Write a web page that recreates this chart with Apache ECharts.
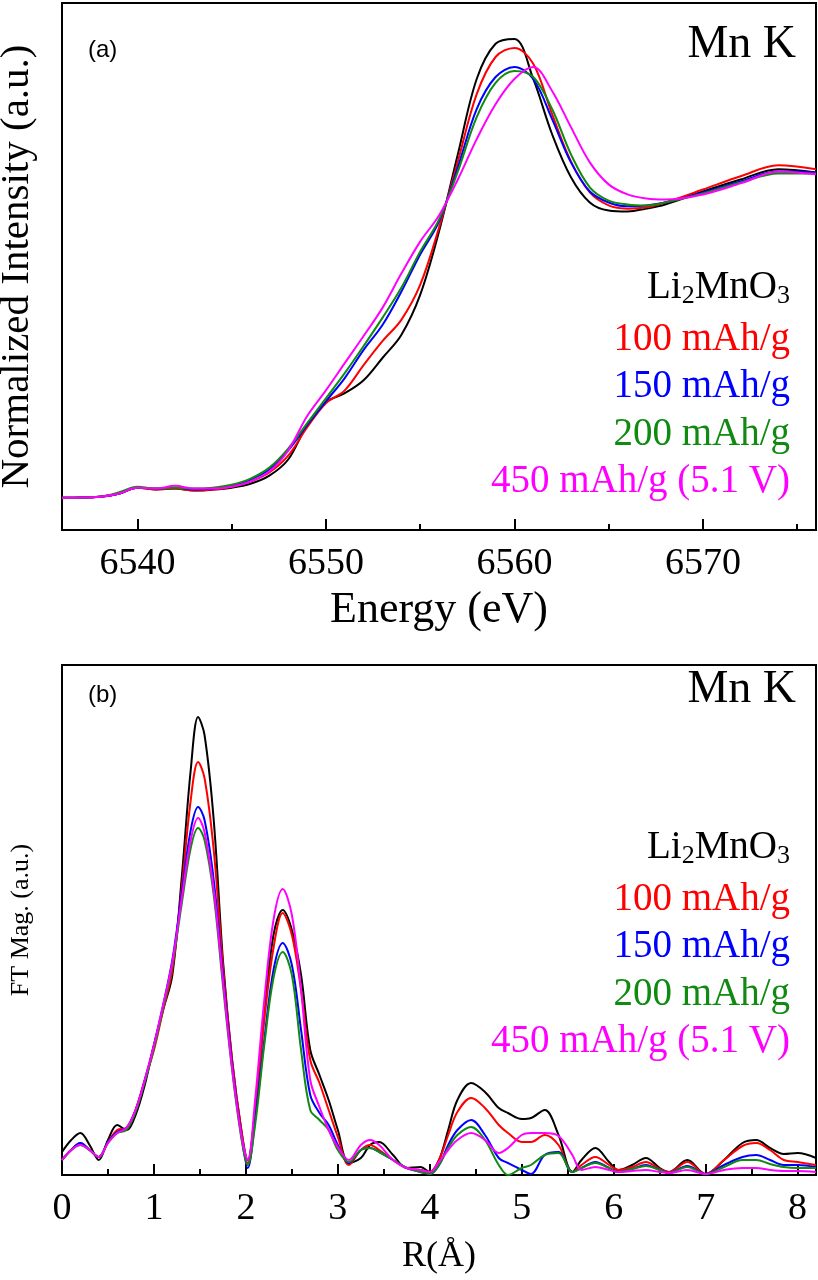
<!DOCTYPE html>
<html>
<head>
<meta charset="utf-8">
<script src="https://cdn.jsdelivr.net/npm/echarts@6/dist/echarts.min.js"></script>
<style>
html,body{margin:0;padding:0;background:#fff;}
#chart{width:818px;height:1280px;}
</style>
</head>
<body>
<div id="chart"></div>
<script>
// ---------- DATA ----------
const seriesNames = ['Li2MnO3', '100 mAh/g', '150 mAh/g', '200 mAh/g', '450 mAh/g (5.1 V)'];
const seriesColors = ['#000000', '#ff0000', '#0000ff', '#108a10', '#ff00ff'];

// (a) Mn K-edge XANES
const energy = [6536, 6538, 6539, 6540, 6541, 6542, 6543, 6544, 6545, 6546, 6547, 6548, 6549, 6550, 6551, 6552, 6553, 6554, 6555, 6556, 6557, 6558, 6559, 6560, 6561, 6562, 6563, 6564, 6565, 6566, 6567, 6568, 6570, 6572, 6574, 6576];
const xanesLi2MnO3 = [0.000, 0.003, 0.012, 0.031, 0.025, 0.028, 0.022, 0.025, 0.031, 0.043, 0.068, 0.118, 0.224, 0.295, 0.323, 0.363, 0.432, 0.503, 0.627, 0.823, 1.062, 1.295, 1.404, 1.419, 1.295, 1.124, 0.991, 0.913, 0.888, 0.885, 0.894, 0.907, 0.947, 0.984, 1.016, 1.006];
const xanes100 = [0.000, 0.003, 0.012, 0.031, 0.025, 0.028, 0.022, 0.025, 0.034, 0.050, 0.078, 0.130, 0.217, 0.292, 0.332, 0.410, 0.484, 0.550, 0.658, 0.835, 1.040, 1.248, 1.363, 1.391, 1.342, 1.186, 1.040, 0.944, 0.904, 0.894, 0.898, 0.913, 0.953, 0.994, 1.028, 1.016];
const xanes150 = [0.000, 0.003, 0.012, 0.031, 0.028, 0.031, 0.025, 0.028, 0.037, 0.056, 0.087, 0.146, 0.224, 0.298, 0.370, 0.457, 0.534, 0.637, 0.752, 0.854, 1.022, 1.202, 1.301, 1.332, 1.295, 1.171, 1.037, 0.947, 0.913, 0.901, 0.904, 0.913, 0.944, 0.978, 1.009, 1.006];
const xanes200 = [0.000, 0.003, 0.016, 0.034, 0.028, 0.031, 0.028, 0.031, 0.040, 0.059, 0.093, 0.152, 0.230, 0.307, 0.385, 0.469, 0.556, 0.649, 0.761, 0.860, 1.009, 1.177, 1.283, 1.320, 1.301, 1.202, 1.062, 0.960, 0.919, 0.907, 0.904, 0.913, 0.941, 0.975, 1.003, 1.003];
const xanes450 = [0.000, 0.003, 0.012, 0.031, 0.028, 0.037, 0.028, 0.028, 0.034, 0.050, 0.081, 0.146, 0.252, 0.332, 0.416, 0.500, 0.587, 0.693, 0.792, 0.873, 0.984, 1.109, 1.217, 1.295, 1.332, 1.258, 1.146, 1.037, 0.969, 0.938, 0.925, 0.922, 0.938, 0.972, 1.009, 1.000];
const energyTicks = [6540, 6550, 6560, 6570];
const energyMinorTicks = [6545, 6555, 6565, 6575];

// (b) Fourier transform magnitude
const rValues = [0, 0.1, 0.2, 0.3, 0.4, 0.5, 0.6, 0.7, 0.8, 0.9, 1.0, 1.1, 1.2, 1.3, 1.4, 1.48, 1.55, 1.65, 1.75, 1.85, 1.95, 2.02, 2.1, 2.2, 2.3, 2.4, 2.5, 2.6, 2.7, 2.8, 2.9, 3.0, 3.12, 3.25, 3.35, 3.45, 3.6, 3.75, 3.9, 4.0, 4.1, 4.2, 4.3, 4.45, 4.6, 4.75, 4.85, 5.0, 5.1, 5.25, 5.4, 5.55, 5.65, 5.8, 5.95, 6.05, 6.2, 6.35, 6.5, 6.6, 6.8, 7.0, 7.2, 7.4, 7.55, 7.7, 7.85, 8.0, 8.2];
const ftLi2MnO3 = [0.23, 0.35, 0.42, 0.30, 0.15, 0.35, 0.50, 0.45, 0.60, 0.90, 1.30, 1.65, 2.00, 2.95, 4.05, 4.58, 4.40, 3.55, 2.15, 1.15, 0.45, 0.15, 0.65, 1.60, 2.40, 2.65, 2.45, 2.00, 1.25, 1.00, 0.75, 0.45, 0.12, 0.17, 0.30, 0.33, 0.20, 0.07, 0.08, 0.03, 0.15, 0.45, 0.75, 0.92, 0.83, 0.67, 0.62, 0.56, 0.57, 0.65, 0.40, 0.03, 0.15, 0.27, 0.13, 0.05, 0.10, 0.17, 0.07, 0.03, 0.15, 0.01, 0.15, 0.32, 0.35, 0.27, 0.21, 0.22, 0.17];
const ft100 = [0.15, 0.25, 0.32, 0.25, 0.18, 0.33, 0.45, 0.47, 0.65, 0.95, 1.25, 1.65, 2.05, 2.85, 3.75, 4.13, 3.97, 3.25, 2.10, 1.15, 0.45, 0.12, 0.65, 1.55, 2.27, 2.62, 2.40, 1.85, 1.15, 0.92, 0.65, 0.38, 0.10, 0.25, 0.30, 0.25, 0.15, 0.07, 0.05, 0.03, 0.15, 0.40, 0.63, 0.77, 0.67, 0.50, 0.42, 0.33, 0.33, 0.40, 0.30, 0.03, 0.10, 0.18, 0.10, 0.05, 0.08, 0.13, 0.06, 0.03, 0.13, 0.01, 0.15, 0.29, 0.32, 0.25, 0.15, 0.13, 0.10];
const ft150 = [0.15, 0.25, 0.32, 0.25, 0.18, 0.33, 0.43, 0.47, 0.65, 0.95, 1.30, 1.70, 2.15, 2.80, 3.45, 3.68, 3.55, 2.95, 2.00, 1.10, 0.40, 0.07, 0.55, 1.35, 2.05, 2.32, 2.10, 1.45, 0.80, 0.62, 0.50, 0.30, 0.12, 0.25, 0.27, 0.23, 0.15, 0.07, 0.03, 0.01, 0.10, 0.30, 0.45, 0.55, 0.40, 0.17, 0.12, 0.05, 0.01, 0.20, 0.23, 0.03, 0.07, 0.13, 0.07, 0.03, 0.06, 0.10, 0.05, 0.02, 0.09, 0.01, 0.10, 0.18, 0.20, 0.15, 0.10, 0.10, 0.08];
const ft200 = [0.15, 0.25, 0.30, 0.25, 0.18, 0.32, 0.42, 0.45, 0.63, 0.93, 1.27, 1.67, 2.10, 2.70, 3.27, 3.47, 3.35, 2.80, 1.90, 1.05, 0.37, 0.10, 0.50, 1.30, 1.97, 2.23, 2.00, 1.25, 0.65, 0.55, 0.45, 0.25, 0.13, 0.25, 0.27, 0.23, 0.15, 0.07, 0.03, 0.01, 0.10, 0.27, 0.40, 0.48, 0.35, 0.10, 0.00, 0.07, 0.10, 0.20, 0.22, 0.03, 0.07, 0.12, 0.07, 0.03, 0.06, 0.09, 0.05, 0.02, 0.08, 0.01, 0.08, 0.15, 0.15, 0.11, 0.08, 0.07, 0.07];
const ft450 = [0.15, 0.25, 0.30, 0.25, 0.18, 0.32, 0.42, 0.47, 0.65, 0.95, 1.30, 1.70, 2.13, 2.75, 3.35, 3.57, 3.43, 2.85, 1.95, 1.07, 0.40, 0.15, 0.75, 1.75, 2.55, 2.86, 2.60, 1.85, 0.95, 0.68, 0.45, 0.28, 0.15, 0.30, 0.35, 0.30, 0.15, 0.07, 0.05, 0.03, 0.13, 0.25, 0.35, 0.42, 0.35, 0.22, 0.27, 0.40, 0.42, 0.42, 0.39, 0.20, 0.05, 0.08, 0.05, 0.03, 0.04, 0.05, 0.03, 0.02, 0.05, 0.01, 0.05, 0.07, 0.07, 0.05, 0.04, 0.04, 0.03];
const rTicks = [0, 1, 2, 3, 4, 5, 6, 7, 8];
const rMinorTicks = [0.5, 1.5, 2.5, 3.5, 4.5, 5.5, 6.5, 7.5];

const xanesSets = [xanesLi2MnO3, xanes100, xanes150, xanes200, xanes450];
const ftSets = [ftLi2MnO3, ft100, ft150, ft200, ft450];

// ---------- CHART ----------
const SERIF = '"Liberation Serif", "Times New Roman", serif';
const SANS = '"Liberation Sans", Arial, sans-serif';
const chart = echarts.init(document.getElementById('chart'), null, {renderer: 'canvas'});

function zip(xs, ys) { return xs.map((x, i) => [x, ys[i]]); }

function mainX(grid, min, max, ticks, name, nameGap, nameSize) {
  return {
    type: 'value', gridIndex: grid, min: min, max: max, position: 'bottom',
    axisLine: {show: true, onZero: false, lineStyle: {color: '#000', width: 2}},
    axisTick: {show: true, inside: true, length: 11, customValues: ticks, lineStyle: {color: '#000', width: 2}},
    axisLabel: {show: true, customValues: ticks, color: '#000', fontFamily: SERIF, fontSize: 38, margin: 15,
      formatter: function (v) { return String(v); }},
    splitLine: {show: false},
    name: name, nameLocation: 'middle', nameGap: nameGap,
    nameTextStyle: {color: '#000', fontFamily: SERIF, fontSize: nameSize}
  };
}
function minorX(grid, min, max, ticks) {
  return {
    type: 'value', gridIndex: grid, min: min, max: max, position: 'bottom',
    axisLine: {show: false, onZero: false},
    axisTick: {show: true, inside: true, length: 6, customValues: ticks, lineStyle: {color: '#000', width: 2}},
    axisLabel: {show: false},
    splitLine: {show: false}
  };
}
function yAx(grid, min, max, name, nameGap, nameSize) {
  return {
    type: 'value', gridIndex: grid, min: min, max: max,
    axisLine: {show: true, onZero: false, lineStyle: {color: '#000', width: 2}},
    axisTick: {show: false}, axisLabel: {show: false}, splitLine: {show: false},
    name: name, nameLocation: 'middle', nameRotate: 90, nameGap: nameGap,
    nameTextStyle: {color: '#000', fontFamily: SERIF, fontSize: nameSize}
  };
}

const series = [];
seriesNames.forEach((n, i) => {
  series.push({
    name: n, type: 'line', xAxisIndex: 0, yAxisIndex: 0,
    data: zip(energy, xanesSets[i]), showSymbol: false, smooth: 0.35,
    lineStyle: {color: seriesColors[i], width: 2}, itemStyle: {color: seriesColors[i]},
    silent: true, animation: false
  });
});
seriesNames.forEach((n, i) => {
  series.push({
    name: n, type: 'line', xAxisIndex: 2, yAxisIndex: 1,
    data: zip(rValues, ftSets[i]), showSymbol: false, smooth: 0.35,
    lineStyle: {color: seriesColors[i], width: 2}, itemStyle: {color: seriesColors[i]},
    silent: true, animation: false
  });
});

function legendBlock(yStart, step) {
  const els = [];
  els.push({
    type: 'text', x: 790, y: yStart,
    style: {
      text: '{n|Li}{s|2}{n|MnO}{s|3}', align: 'right', verticalAlign: 'middle',
      rich: {
        n: {fontFamily: SERIF, fontSize: 39, fill: '#000', color: '#000', lineHeight: 44},
        s: {fontFamily: SERIF, fontSize: 26, fill: '#000', color: '#000', lineHeight: 44, padding: [16, 0, 0, 0]}
      }
    }
  });
  for (let i = 1; i < seriesNames.length; i++) {
    els.push({
      type: 'text', x: 790, y: yStart + step * i + 4,
      style: {text: seriesNames[i], align: 'right', verticalAlign: 'middle',
        font: '39px ' + SERIF, fill: seriesColors[i]}
    });
  }
  return els;
}

const graphics = [
  {type: 'text', x: 88, y: 50, style: {text: '(a)', font: '24px ' + SANS, fill: '#000', align: 'left', verticalAlign: 'middle'}},
  {type: 'text', x: 796, y: 45, style: {text: 'Mn K', font: '46px ' + SERIF, fill: '#000', align: 'right', verticalAlign: 'middle'}},
  {type: 'text', x: 88, y: 695, style: {text: '(b)', font: '24px ' + SANS, fill: '#000', align: 'left', verticalAlign: 'middle'}},
  {type: 'text', x: 796, y: 690, style: {text: 'Mn K', font: '46px ' + SERIF, fill: '#000', align: 'right', verticalAlign: 'middle'}}
].concat(legendBlock(288, 47.5)).concat(legendBlock(848, 47.5));

chart.setOption({
  animation: false,
  backgroundColor: '#fff',
  grid: [
    {left: 62, top: 3, width: 754, height: 527, show: true, borderColor: '#000', borderWidth: 2, backgroundColor: 'transparent', containLabel: false, outerBoundsMode: 'none'},
    {left: 62, top: 665, width: 754, height: 510, show: true, borderColor: '#000', borderWidth: 2, backgroundColor: 'transparent', containLabel: false, outerBoundsMode: 'none'}
  ],
  xAxis: [
    mainX(0, 6536, 6576, energyTicks, 'Energy (eV)', 58, 44),
    minorX(0, 6536, 6576, energyMinorTicks),
    mainX(1, 0, 8.2, rTicks, 'R(Å)', 64, 36),
    minorX(1, 0, 8.2, rMinorTicks)
  ],
  yAxis: [
    yAx(0, -0.1, 1.53, 'Normalized Intensity (a.u.)', 24, 41),
    yAx(1, 0, 5.1, 'FT Mag. (a.u.)', 28, 26)
  ],
  series: series,
  graphic: graphics
});
</script>
</body>
</html>
